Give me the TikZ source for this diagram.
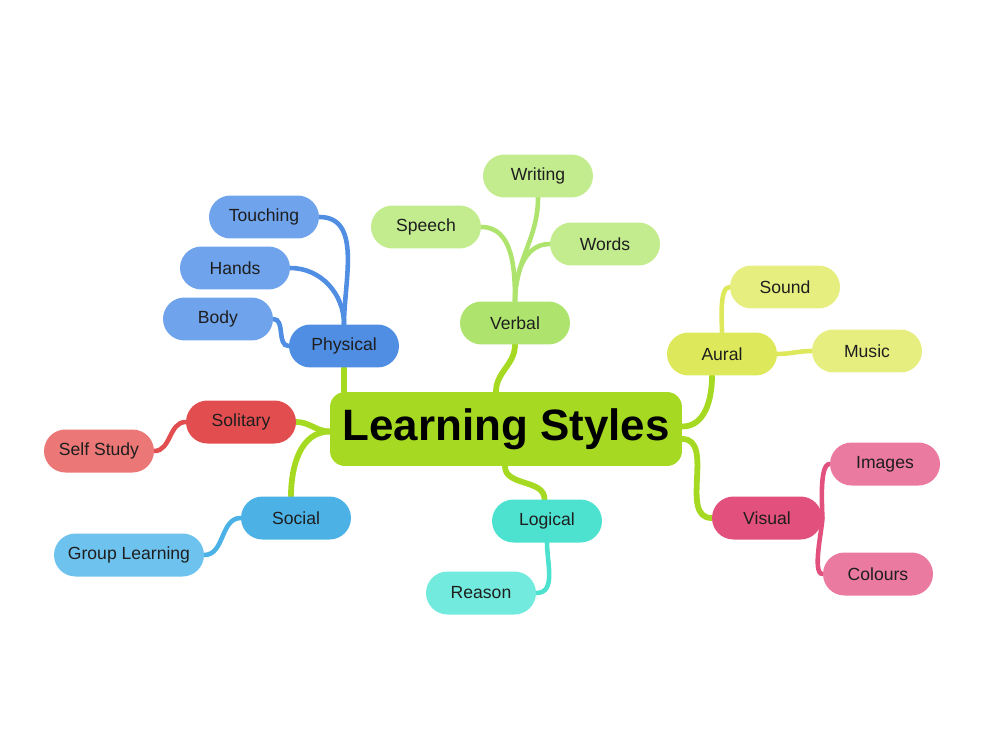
\documentclass[tikz,border=0pt]{standalone}
\usepackage{fontspec}
\setmainfont{Liberation Sans}
\usepackage{tikz}
\usetikzlibrary{backgrounds}

\definecolor{lsgreen}{HTML}{A6DA22}
\definecolor{physA}{HTML}{4F8EE3}
\definecolor{physB}{HTML}{6FA3EB}
\definecolor{verbA}{HTML}{AEE46E}
\definecolor{verbB}{HTML}{C3EC8E}
\definecolor{auraA}{HTML}{DDE85A}
\definecolor{auraB}{HTML}{E7EE80}
\definecolor{visA}{HTML}{E2507E}
\definecolor{visB}{HTML}{EB7AA1}
\definecolor{logA}{HTML}{4DE2D0}
\definecolor{logB}{HTML}{72EADD}
\definecolor{solA}{HTML}{E24D4F}
\definecolor{solB}{HTML}{EB7777}
\definecolor{socA}{HTML}{4CB2E6}
\definecolor{socB}{HTML}{6DC2EE}
\definecolor{txt}{HTML}{1E1E1E}

\begin{document}
\begin{tikzpicture}[x=0.02cm, y=-0.02cm,
  pill/.style={rectangle, rounded corners=0.43cm, minimum width=2.2cm,
    minimum height=0.86cm, inner sep=0pt, text=txt, font=\fontsize{10}{12}\selectfont},
  branch/.style={line width=3.3pt, line cap=round},
  twig/.style={line width=2.6pt, line cap=round}]

\useasboundingbox (0,0) rectangle (1000,750);

% centre
\node[rectangle, rounded corners=0.3cm, fill=lsgreen, minimum width=7.04cm,
  minimum height=1.48cm, font=\fontsize{25}{30}\selectfont\bfseries] (ls) at (506,429) {Learning Styles};

% main topics
\node[pill, fill=physA] (phys) at (344,346) {Physical};
\node[pill, fill=verbA] (verb) at (515,323) {Verbal};
\node[pill, fill=auraA] (aura) at (722,354) {Aural};
\node[pill, fill=visA]  (vis)  at (767,518) {Visual};
\node[pill, fill=logA]  (logi) at (547,521) {Logical};
\node[pill, fill=solA]  (sol)  at (241,422) {Solitary};
\node[pill, fill=socA]  (soc)  at (296,518) {Social};

% leaves
\node[pill, fill=physB] (touch) at (264,217) {Touching};
\node[pill, fill=physB] (hands) at (235,268) {Hands};
\node[pill, fill=physB] (body)  at (218,319) {Body};
\node[pill, fill=verbB] (speech) at (426,227) {Speech};
\node[pill, fill=verbB] (writ)   at (538,176) {Writing};
\node[pill, fill=verbB] (words)  at (605,244) {Words};
\node[pill, fill=auraB] (sound) at (785,287) {Sound};
\node[pill, fill=auraB] (music) at (867,351) {Music};
\node[pill, fill=visB]  (img)   at (885,464) {Images};
\node[pill, fill=visB]  (col)   at (878,574) {Colours};
\node[pill, fill=logB]  (reas)  at (481,593) {Reason};
\node[pill, fill=solB]  (self)  at (99,451) {Self Study};
\node[pill, fill=socB, minimum width=3cm] (grp) at (129,555) {Group Learning};

\begin{pgfonlayer}{background}
% branches from the centre
\draw[branch, lsgreen] (phys.south) -- (phys.south |- ls.north);
\draw[branch, lsgreen] (verb.south) to[out=-90, in=90] ([xshift=-0.2cm]ls.north);
\draw[branch, lsgreen] (sol.east) to[out=0, in=180] ([yshift=-0.05cm]ls.west);
\draw[branch, lsgreen] ([xshift=-0.1cm]soc.north) to[out=90, in=180] ([yshift=-0.05cm]ls.west);
\draw[branch, lsgreen] ([yshift=0.05cm]ls.east) to[out=0, in=-90] ([xshift=-0.2cm]aura.south);
\draw[branch, lsgreen] ([yshift=-0.2cm]ls.east) to[out=0, in=180] (vis.west);
\draw[branch, lsgreen] ([xshift=-0.02cm]ls.south) to[out=-90, in=90] ([xshift=-0.05cm]logi.north);

% sub branches
\draw[twig, physA] (phys.north) to[out=90, in=0] (touch.east);
\draw[twig, physA] (phys.north) to[out=90, in=0] (hands.east);
\draw[twig, physA] (body.east) to[out=0, in=180] (phys.west);
\draw[twig, verbA] (verb.north) to[out=90, in=0] (speech.east);
\draw[twig, verbA] (verb.north) to[out=90, in=-90] (writ.south);
\draw[twig, verbA] (verb.north) to[out=90, in=180] (words.west);
\draw[twig, auraA] (aura.north) to[out=90, in=180, looseness=0.6] (sound.west);
\draw[twig, auraA] (aura.east) to[out=0, in=180] (music.west);
\draw[twig, visA] (vis.east) to[out=90, in=180, looseness=0.5] (img.west);
\draw[twig, visA] (vis.east) to[out=-90, in=180, looseness=0.5] (col.west);
\draw[twig, logA] (logi.south) to[out=-90, in=0] (reas.east);
\draw[twig, solA] (sol.west) to[out=180, in=0] (self.east);
\draw[twig, socA] (soc.west) to[out=180, in=0] (grp.east);
\end{pgfonlayer}
\end{tikzpicture}
\end{document}
